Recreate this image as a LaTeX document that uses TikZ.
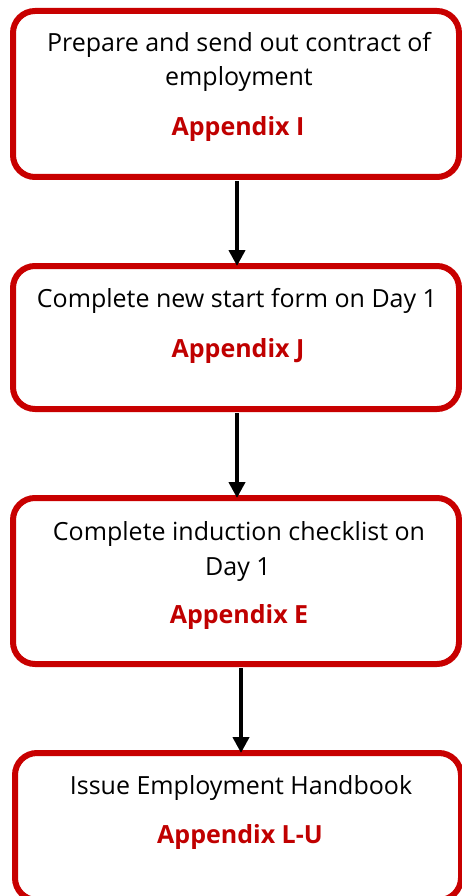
\documentclass[tikz,border=0pt]{standalone}
\usepackage{fontspec}
\setmainfont{Open Sans}
\usetikzlibrary{arrows.meta}
\definecolor{boxred}{HTML}{C80000}
\definecolor{txtred}{HTML}{C00000}
\tikzset{
  stepbox/.style={draw=boxred, line width=6pt, rounded corners=22pt, fill=white,
    inner sep=0pt, minimum width=446pt},
  blacktxt/.style={anchor=base, inner sep=0pt, font=\fontsize{25}{30}\selectfont, text=black},
  redtxt/.style={anchor=base, inner sep=0pt, font=\fontsize{25}{30}\selectfont\bfseries, text=txtred},
  arr/.style={line width=4.5pt, -{Triangle[length=16pt,width=16pt]}}
}
\begin{document}
\begin{tikzpicture}[x=1pt,y=-1pt]
\useasboundingbox (0,0) rectangle (461,896);
\node[stepbox, minimum height=166pt] (b1) at (236,94) {};
\node[stepbox, minimum height=143pt] (b2) at (236,337.5) {};
\node[stepbox, minimum height=166pt] (b3) at (236,581) {};
\node[stepbox, minimum height=147pt] (b4) at (238,826.5) {};
\node[blacktxt] (t1a) at (239,52) {Prepare and send out contract of};
\node[blacktxt] (t1b) at (239,86) {employment};
\node[redtxt] (r1) at (238,136) {Appendix I};
\node[blacktxt] (t2) at (237,307) {Complete new start form on Day 1};
\node[redtxt] (r2) at (238,357) {Appendix J};
\node[blacktxt] (t3a) at (239,540) {Complete induction checklist on};
\node[blacktxt] (t3b) at (238,575) {Day 1};
\node[redtxt] (r3) at (239,623) {Appendix E};
\node[blacktxt] (t4) at (241,794) {Issue Employment Handbook};
\node[redtxt] (r4) at (240,843) {Appendix L-U};
\coordinate (a1) at (237,0);
\coordinate (a3) at (241,0);
\draw[arr] ([yshift=-1pt]b1.south -| a1) -- ([yshift=-3pt]b2.north -| a1);
\draw[arr] ([yshift=-1pt]b2.south -| a1) -- ([yshift=-3pt]b3.north -| a1);
\draw[arr] ([yshift=-1pt]b3.south -| a3) -- ([yshift=-3pt]b4.north -| a3);
\end{tikzpicture}
\end{document}
